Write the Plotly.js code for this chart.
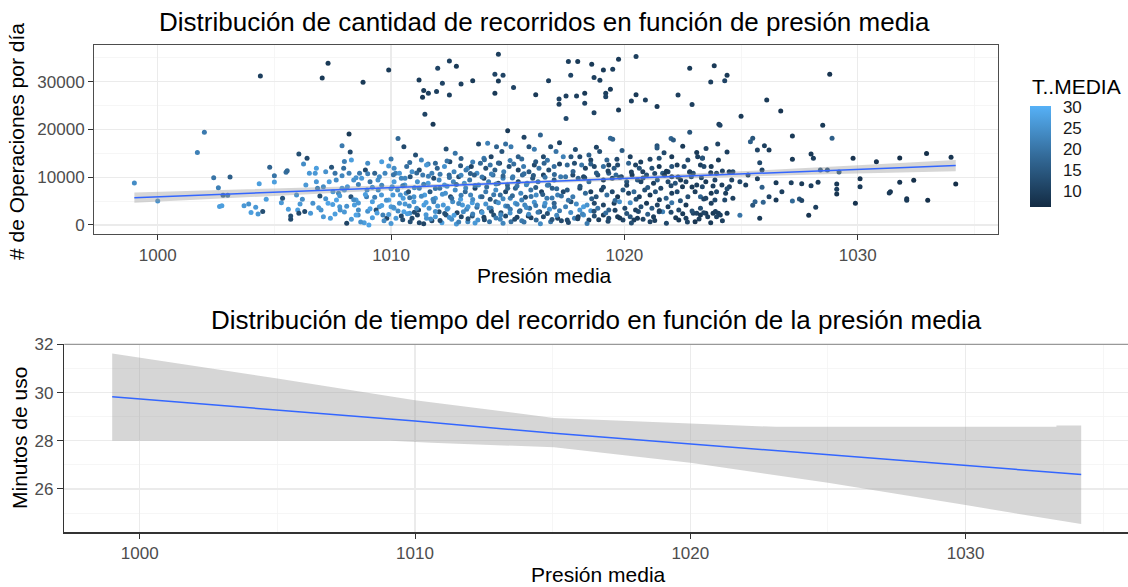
<!DOCTYPE html>
<html><head><meta charset="utf-8">
<script src="https://cdn.plot.ly/plotly-3.0.1.min.js"></script>
<style>html,body{margin:0;padding:0;background:#fff;} #chart{width:1128px;height:587px;}</style>
</head><body><div id="chart"></div>
<script>
// ---------- Top chart: daily trips vs mean pressure (points coloured by T..MEDIA) ----------
const presA1 = [999.0,1000.0,1001.7,1002.0,1002.4,1002.6,1002.65,1002.75,1002.8,1003.0,
1003.1,1003.7,1003.9,1004.0,1004.2,1004.3,1004.35,1004.4,1004.5,1004.65,
1004.8,1005.0,1005.0,1005.3,1005.35,1005.5,1005.55,1005.6,1005.7,1005.7,
1005.95,1006.0,1006.05,1006.05,1006.1,1006.2,1006.25,1006.3,1006.35,1006.4,
1006.5,1006.55,1006.65,1006.75,1006.8,1006.8,1006.85,1006.95,1007.0,1007.05,
1007.1,1007.3,1007.3,1007.4,1007.45,1007.6,1007.65,1007.75,1007.8,1007.9,
1008.0,1008.1,1008.2,1008.25,1008.3,1008.2,1008.4,1008.5,1008.6,1008.65,
1008.8,1008.85,1008.95,1009.05,1009.1,1009.3,1009.45,1009.5,1009.6,1009.65,
1009.9,1009.9,1010.0,1010.05,1010.2,1010.3,1010.55,1010.65,1010.8,1011.05];
const opsA1 = [8800,5000,15150,19400,9900,7800,3850,4050,6200,6200,
10050,4050,4400,2600,3700,2300,8650,31200,2800,5370,
12080,9000,10330,4680,5580,11030,11380,3280,1190,1880,
6280,3140,14870,2440,4400,5370,12770,2800,8380,13960,
10820,2440,4540,10820,11870,9070,7680,6070,3140,30780,
1750,33850,4540,1400,12080,10820,9420,6630,3840,16610,
7330,350,19050,15290,13610,10820,9420,5230,3140,10820,
29870,490,5930,0,9070,10820,7330,3840,13260,2090,
32460,12350,3840,8030,10820,18080,16400,6630,2440,14660];
const tempA1 = [24,25,22,21,20,22,27,27,17,20,
16,26,25,27,26,26,27,10,13,27,
17,27,20,26,14,19,18,27,12,13,
25,27,13,12,26,24,24,12,26,12,
26,26,25,26,27,26,22,13,25,9,
26,9,28,27,14,20,24,23,26,21,
27,11,9,12,27,22,25,27,24,21,
9,27,22,28,20,17,24,26,27,22,
9,26,27,25,22,18,12,24,25,13];

const presA2 = [1011.2,1011.35,1011.4,1011.45,1011.6,1011.8,1011.95,1012.0,1012.2,1012.5,
1012.5,1012.8,1013.0,1013.5,1014.45,1014.45,1014.6,1014.6,1014.8,1015.0,
1015.25,1015.7,1016.2,1016.4,1016.75,1017.2,1017.2,1017.6,1018.0,1017.7,
1017.5,1017.5,1017.95,1018.3,1018.3,1018.6,1018.7,1018.95,1019.1,1019.2,
1019.2,1019.4,1019.5,1019.75,1019.75,1018.7,1020.5,1020.3,1020.5,1020.9,
1021.4,1022.3,1022.8,1022.9,1022.8,1023.85,1023.7,1024.3,1024.4,1025.0,
1024.05,1024.1,1026.1,1026.7,1028.5,1028.8];
const opsA2 = [30360,26730,28130,23170,27570,21080,27920,32810,29660,34350,
27220,33230,29520,30220,31550,27570,35740,30150,31340,19750,
28760,18360,27290,18850,30220,26380,25270,34200,34200,31340,
22270,27010,27010,27570,25480,33640,30850,30290,32460,27570,
26870,28410,32600,34690,24080,23520,35250,25970,27290,26170,
24780,27220,32810,25200,19400,33360,29940,30220,31340,22750,
21080,20870,26170,23870,20870,31550];
const tempA2 = [9,9,9,11,10,9,10,11,11,10,
10,9,10,9,11,9,10,9,11,9,
11,11,9,17,10,11,10,10,9,11,
12,10,10,9,11,9,10,10,9,10,
11,9,10,9,9,11,10,10,9,10,
9,10,9,10,14,9,10,11,9,9,
10,11,9,8,9,8];

const presA3 = [1027.2,1028.9,1025.4,1025.5,1025.7,1026.0,1026.2,1024.0,1024.4,1023.1,
1023.35,1022.0,1022.1,1021.4,1021.4,1019.4,1019.5,1029.8,1030.8,1031.8,
1032.95,1034.0,1034.2,1030.1,1030.1,1029.9,1031.4,1031.35,1031.8,1032.4,
1032.1,1032.1,1033.0,1029.2,1029.1,1029.1,1029.1,1028.0,1028.1,1027.2,
1027.15,1027.6,1028.0,1028.3,1028.2,1027.9,1028.4,1028.7,1027.5,1027.6,
1027.2,1026.5,1026.75,1026.5,1026.2,1025.9,1025.8,1025.95,1025.5,1025.6,
1025.8,1025.9,1025.7,1025.3,1025.2,1024.95,1024.95,1024.65,1024.65,1024.5,
1024.4,1024.6];
const opsA3 = [18640,18150,17450,18150,15700,16610,15700,16960,15290,15150,
14030,18080,17800,16610,16120,18150,17940,13960,13260,14030,
14940,14170,8590,9700,8030,4540,6980,6700,8930,9350,
5510,5170,5170,11100,8590,7470,6490,14870,13960,13750,
8860,8650,8240,8930,3700,2020,11520,11520,5440,5100,
5030,8860,6980,5230,5930,7890,1400,4750,4120,4890,
13050,11520,9700,10470,8380,9070,2020,11170,5580,8030,
7610,9420];
const tempA3 = [9,16,16,14,11,10,9,11,10,9,
11,17,15,14,15,18,17,8,8,7,
7,8,7,8,9,8,8,9,8,7,
8,9,7,14,9,10,8,9,10,9,
10,9,10,9,10,8,14,13,14,11,
18,9,10,9,11,16,9,17,14,17,
12,11,10,11,10,12,20,12,10,11,
13,11];

const presB = [1007.20,1007.35,1007.51,1007.66,1007.82,1007.97,1008.13,1008.28,1008.43,1008.59,
1008.74,1008.90,1008.97,1009.20,1009.36,1009.44,1009.59,1009.74,1009.82,1009.90];
const opsB = [11170,9070,6980,5240,3140,11870,8030,5930,4190,2090,
9770,11520,7330,4890,3140,9420,6280,10820,1400,5240];
const tempB = [25,27,26,28,25,19,26,14,27,24,26,12,25,27,13,25,26,23,12,28];

const presC1 = [1011.59,1012.36,1012.75,1013.29,1013.75,1013.98,1014.14,1014.29,1014.52,1014.75,
1014.91,1015.14,1015.45,1015.91,1016.14,1016.53,1016.84,1017.07,1017.22,1017.38];
const opsC1 = [12770,15910,15010,11870,16960,13960,17100,14310,16400,15360,
16960,16400,14310,16400,15840,14310,16400,15360,17240,14310];
const tempC1 = [22,13,20,24,12,21,22,11,17,14,19,21,16,14,21,12,13,20,11,22];

const presC2 = [1010.13,1010.36,1010.67,1010.90,1011.21,1011.52,1011.75,1011.98,1012.29,1012.52,
1012.70,1012.98,1013.21,1013.44,1013.68,1013.83,1014.06,1014.25,1014.45,1014.65,
1014.83,1015.06,1015.26,1015.45,1015.68,1015.91,1016.14,1016.34,1016.56,1016.76,
1016.99,1017.22];
const opsC2 = [11870,10820,12220,11170,11520,12560,10820,11870,12220,13260,
11170,12420,11520,12220,10820,12910,11870,12560,11520,12910,
11170,12220,12770,11520,12220,11170,12560,11870,12910,11520,
12220,12770];
const tempC2 = [24,26,19,25,13,26,22,17,25,12,23,15,21,11,24,18,13,20,16,10,22,14,19,11,21,15,12,20,17,13,19,11];

const presC3 = [1010.13,1010.44,1010.59,1010.82,1011.13,1011.36,1011.59,1011.83,1012.06,1012.29,
1012.49,1012.67,1012.90,1013.14,1013.37,1013.57,1013.75,1013.98,1014.18,1014.37,
1014.60,1014.80,1014.99,1015.22,1015.45,1015.63,1015.83,1016.07,1016.30,1016.53,
1016.76,1016.99,1017.27];
const opsC3 = [9070,9770,8380,10120,9070,10470,8730,9770,9420,8380,
10470,9070,10120,8730,9420,10470,8380,9770,9070,10470,
8730,9770,8380,10120,9070,10470,8730,9770,9070,10470,
8380,9420,10120];
const tempC3 = [27,23,26,14,25,21,27,12,24,26,18,23,13,25,20,16,24,11,22,19,13,23,17,21,12,18,22,14,20,11,19,15,21];

const presC4 = [1010.08,1010.28,1010.52,1010.75,1010.98,1011.21,1011.44,1011.67,1011.90,1012.09,
1012.33,1012.55,1012.75,1012.98,1013.18,1013.41,1013.60,1013.83,1014.06,1014.25,
1014.49,1014.68,1014.91,1015.11,1015.33,1015.56,1015.76,1015.99,1016.22,1016.45,
1016.68,1016.91,1017.14,1017.38];
const opsC4 = [6280,7330,5580,6980,5930,7680,6280,6980,5580,7680,
6630,5930,7330,5370,6980,6280,7680,5930,6980,5370,
7330,6280,6980,5580,7680,6630,5790,7330,6280,6980,
5580,7680,6280,6980];
const tempC4 = [26,24,27,13,25,22,27,15,26,20,25,12,24,27,18,23,11,25,21,14,24,19,12,22,17,23,13,20,24,11,21,16,22,12];

const presC5 = [1010.13,1010.36,1010.55,1010.78,1010.98,1011.18,1011.41,1011.63,1011.83,1012.06,
1012.24,1012.44,1012.64,1012.83,1013.06,1013.24,1013.48,1013.68,1013.88,1014.06,
1014.29,1014.49,1014.71,1014.91,1015.11,1015.33,1015.53,1015.73,1015.94,1016.14,
1016.37,1016.57,1016.79,1016.99,1017.22];
const opsC5 = [3490,4540,2790,3980,4890,3140,4190,3490,4890,2790,
4190,3490,4890,2580,4190,3280,4680,3700,2790,4400,
3490,4890,2580,3980,3280,4540,3000,4190,3490,4750,
2790,3980,3280,4540,3000];
const tempC5 = [27,25,28,24,26,12,27,25,22,13,26,27,24,11,26,23,27,20,12,25,22,18,13,24,21,26,14,23,19,25,12,22,26,17,21];

const presC6 = [1010.21,1010.44,1010.82,1011.13,1011.21,1011.52,1011.75,1011.90,1012.18,1012.36,
1012.60,1012.80,1013.01,1013.29,1013.48,1013.72,1013.98,1014.22,1014.40,1014.68,
1014.91,1015.14,1015.40,1015.60,1015.88,1016.22,1016.53,1016.84,1017.14];
const opsC6 = [1400,1880,700,2090,490,1400,910,1750,490,2090,
1190,210,1750,700,1880,1050,1610,700,2090,1190,
1880,700,1610,910,1880,1050,1750,700,1400];
const tempC6 = [26,12,13,11,12,25,12,26,27,13,24,26,12,23,14,25,11,20,13,22,12,19,11,21,10,18,12,20,11];

const presD1 = [1017.71,1018.09,1018.48,1018.56,1018.94,1019.25,1019.68,1020.25,1021.10,1021.49,1022.03,1022.72,1023.14,1023.34,1024.03];
const opsD1 = [14310,14310,14660,13610,15360,13610,13750,14310,13750,13960,14310,13610,14310,13960,13610];
const tempD1 = [14,12,16,11,13,17,12,10,11,13,9,12,10,14,9];

const presD2 = [1017.55,1017.86,1018.17,1018.33,1018.56,1018.71,1019.10,1019.33,1019.56,1019.71,
1020.18,1020.48,1020.64,1020.79,1021.18,1021.49,1021.64,1021.87,1022.03,1022.26,
1022.56,1022.80,1022.95,1023.26,1023.41,1023.72,1023.95,1024.49];
const opsD2 = [12560,12910,12560,11870,12770,12220,12220,12560,11870,12560,
12910,12560,11870,11170,11870,12220,10820,11170,12220,12560,
12220,11030,10820,12560,12220,12220,10820,11170];
const tempD2 = [18,13,20,11,16,12,19,10,15,12,17,11,14,10,13,9,15,11,14,10,12,9,13,10,12,9,11,10];

const presD3 = [1017.48,1017.79,1018.02,1018.25,1018.48,1018.86,1019.10,1019.33,1019.48,1019.64,
1019.87,1020.10,1020.33,1020.56,1020.71,1020.95,1021.25,1021.41,1021.72,1021.87,
1022.03,1022.18,1022.41,1022.64,1022.87,1023.10,1023.34,1023.49,1023.88,1024.18];
const opsD3 = [10120,10470,9770,10120,9070,10470,9420,10820,9770,10470,
10120,9070,10470,9420,9070,10470,8730,9420,10470,9070,
10120,8730,9420,9070,10120,8380,8030,9070,9420,8380];
const tempD3 = [20,12,17,11,19,13,10,16,12,18,11,14,9,15,11,13,10,16,9,12,10,14,9,11,13,10,12,9,11,10];

const presD4 = [1017.55,1017.79,1018.09,1018.33,1018.56,1018.79,1019.02,1019.25,1019.48,1019.71,
1019.94,1020.18,1020.41,1020.64,1020.87,1021.10,1021.33,1021.56,1021.79,1022.03,
1022.26,1022.49,1022.72,1023.03,1023.26,1023.49,1023.72,1023.95,1024.34];
const opsD4 = [7330,5930,7680,6630,6980,5930,7330,6280,6980,5930,
7330,6630,6980,5930,7330,6280,6980,7680,5580,6630,
6980,8030,5930,6980,5930,5580,6630,6980,6630];
const tempD4 = [15,21,12,18,10,14,11,19,12,9,15,11,18,10,13,9,14,11,16,10,12,9,13,10,17,11,9,12,10];

const presD5 = [1017.48,1017.71,1017.94,1018.09,1018.25,1018.40,1018.56,1018.71,1018.86,1019.10,
1019.33,1019.56,1019.79,1020.02,1020.25,1020.48,1020.71,1020.95,1021.18,1021.41,
1021.64,1021.87,1022.03,1022.33,1022.64,1022.95,1023.26,1023.49,1023.72,1023.88,
1024.03];
const opsD5 = [3840,4890,4400,3140,3840,4190,3000,4540,3490,4190,
3140,4540,4890,3490,4680,3140,3840,4540,3490,4190,
2790,3840,4680,3140,4190,2440,3490,2440,4540,5240,
2440];
const tempD5 = [22,13,24,26,27,25,26,12,20,11,16,10,25,12,24,10,13,9,15,11,22,10,20,12,9,11,13,9,10,12,10];

const presD6 = [1017.55,1017.86,1018.02,1018.25,1018.48,1018.71,1019.10,1019.33,1019.71,1019.94,
1020.25,1020.41,1020.56,1021.10,1021.25,1021.49,1022.33,1022.64,1023.03,1023.10,
1023.26,1023.57,1023.80,1023.95,1024.11];
const opsD6 = [1050,1400,1750,2090,1050,1880,2090,1400,1750,1050,
1750,1050,1400,700,1750,2790,1050,1400,700,2440,
2090,1750,2440,1750,2090];
const tempD6 = [12,22,10,25,11,13,10,12,9,11,14,10,9,11,10,13,9,10,8,11,9,10,9,11,10];

// extra points filling the dense 1007-1017 band
const presE1 = [1008.3,1008.7,1009.2,1009.7,1010.0,1010.5,1010.9,1011.4,1011.7,1012.1,1012.5,1012.9,1013.3,1013.6,1014.0,1014.5,1014.8,1015.3,1015.7,1016.0,1016.4,1016.9,1017.3];
const opsE1 = [1200,600,1500,900,300,1100,1400,250,1250,950,1550,600,1300,400,1100,1450,350,1200,650,1500,280,1150,900];
const tempE1 = [26,25,27,24,26,13,12,11,24,12,25,22,13,26,12,21,23,12,20,11,24,14,12];

const presE2 = [1007.6,1008.0,1008.5,1009.0,1009.4,1009.9,1010.3,1010.7,1011.0,1011.5,1011.9,1012.3,1012.7,1013.1,1013.5,1013.9,1014.3,1014.7,1015.1,1015.5,1015.9,1016.3,1016.7,1017.1];
const opsE2 = [2300,2700,2100,2900,2500,2200,2950,2350,2650,2150,2800,2400,2050,2750,2300,2600,2900,2150,2500,2800,2250,2650,2400,2050];
const tempE2 = [27,26,28,25,27,26,24,27,12,26,25,13,27,24,22,26,12,23,25,18,24,21,13,23];

const presE3 = [1006.9,1007.5,1008.1,1008.6,1009.1,1009.6,1010.1,1010.6,1011.1,1011.5,1012.0,1012.4,1012.9,1013.3,1013.7,1014.2,1014.6,1015.0,1015.4,1015.8,1016.2,1016.6,1017.0];
const opsE3 = [3600,4300,3900,4600,3400,4100,3700,4400,3500,4700,4000,3300,4500,3800,4200,3550,4650,3900,4350,3650,4100,4550,3750];
const tempE3 = [26,27,25,26,28,27,25,26,24,27,26,25,23,26,24,22,25,20,23,24,21,25,19];

const presE4 = [1007.2,1007.8,1008.4,1008.9,1009.3,1009.8,1010.4,1010.8,1011.3,1011.8,1012.2,1012.6,1013.0,1013.5,1013.9,1014.4,1014.8,1015.2,1015.6,1016.0,1016.5,1016.9,1017.3];
const opsE4 = [5500,6100,5300,6400,5800,5200,6300,5700,6000,5400,6450,5600,6200,5350,5900,6350,5500,6100,5250,5950,6400,5650,6050];
const tempE4 = [25,26,24,27,22,25,26,20,24,23,25,19,22,24,17,21,23,18,22,20,16,21,19];

const presE5 = [1007.1,1007.9,1008.6,1009.2,1009.6,1010.0,1010.5,1011.0,1011.4,1011.9,1012.4,1012.8,1013.2,1013.6,1014.1,1014.5,1015.0,1015.4,1015.8,1016.2,1016.7,1017.1];
const opsE5 = [8000,7700,8500,7900,8300,7600,8200,7800,8550,7650,8100,8450,7750,8250,7950,8600,7700,8150,8400,7850,8300,7600];
const tempE5 = [24,26,22,25,23,26,21,24,22,20,25,18,23,21,19,22,17,20,23,16,21,18];

const presE6 = [1007.9,1008.5,1009.0,1009.5,1010.1,1010.6,1011.1,1011.6,1012.1,1012.5,1013.0,1013.4,1013.9,1014.3,1014.8,1015.2,1015.7,1016.1,1016.6,1017.0];
const opsE6 = [10300,9900,10700,10100,10500,9800,10900,10200,10600,9950,10400,10800,10050,10650,10250,9850,10750,10350,10000,10550];
const tempE6 = [23,25,22,24,20,23,18,22,21,19,23,16,20,22,17,21,19,15,20,18];

const presE7 = [1008.0,1009.0,1010.0,1010.8,1011.3,1011.9,1012.4,1013.0,1013.5,1014.0,1014.6,1015.1,1015.6,1016.2,1016.7];
const opsE7 = [13300,12900,13800,13100,13600,12950,13400,13900,13200,13650,13000,13500,13800,13250,13550];
const tempE7 = [22,24,21,19,23,18,20,16,22,19,17,21,18,15,20];

// extra points filling the 1017.5-1024.5 band
const presF1 = [1017.6,1018.0,1018.4,1018.9,1019.3,1019.8,1020.3,1020.8,1021.3,1021.8,1022.2,1022.7,1023.2,1023.7,1024.2];
const opsF1 = [500,1300,300,1100,800,1450,400,1200,950,350,1500,600,1250,450,900];
const tempF1 = [12,11,21,10,12,9,13,11,10,12,9,11,10,9,10];

const presF2 = [1017.7,1018.2,1018.7,1019.2,1019.6,1020.1,1020.6,1021.0,1021.5,1022.0,1022.5,1022.9,1023.4,1023.9,1024.4];
const opsF2 = [2600,2300,2900,2500,3100,2400,2800,2250,3000,2650,2350,2950,2550,2800,2450];
const tempF2 = [24,23,13,19,11,14,12,16,10,12,9,13,11,10,9];

const presF3 = [1017.6,1018.1,1018.6,1019.1,1019.6,1020.1,1020.5,1021.0,1021.5,1022.0,1022.4,1022.9,1023.4,1023.8,1024.3];
const opsF3 = [5200,8100,5500,7900,5100,8300,5400,7850,5300,8200,5050,7950,5450,8150,5250];
const tempF3 = [20,14,16,12,18,11,13,15,10,12,14,9,11,10,12];

const presF4 = [1017.8,1018.3,1018.8,1019.3,1019.8,1020.3,1020.8,1021.3,1021.8,1022.3,1022.8,1023.3,1023.7,1024.2];
const opsF4 = [11200,9900,10900,11300,10000,11100,9850,10800,11250,10050,11150,9900,10950,11300];
const tempF4 = [17,12,15,11,14,10,13,12,9,11,10,12,9,11];

const presF5 = [1017.9,1018.8,1019.9,1020.7,1021.7,1022.5,1023.5];
const opsF5 = [15800,16300,15600,13200,15100,16500,16000];
const tempF5 = [13,11,15,10,12,9,11];

// linear fit and 95% band of the top chart
const fitTopX = [999, 1004, 1008, 1012, 1016.5, 1021, 1025, 1029, 1034.2];
const fitTopY = [5720, 6673, 7435, 8198, 9055, 9913, 10675, 11438, 12430];
const fitTopLo = [4630, 5883, 6875, 7798, 8755, 9513, 10115, 10658, 11230];
const fitTopHi = [6810, 7463, 7995, 8598, 9355, 10313, 11235, 12218, 13630];

// ---------- Bottom chart: trip minutes vs mean pressure (smooth + band) ----------
const fitBotX = [999.0, 1005, 1010, 1015.05, 1020, 1025, 1030, 1034.2];
const fitBotY = [29.83, 29.27, 28.82, 28.31, 27.86, 27.41, 26.96, 26.60];
const bandBotHiX = [999.0, 1005, 1010, 1015.05, 1020, 1023.1, 1033.3, 1033.3, 1034.2];
const bandBotHi = [31.63, 30.59, 29.69, 28.95, 28.72, 28.58, 28.58, 28.64, 28.64];
const bandBotLoX = [999.0, 1009.1, 1010.6, 1012.95, 1015.05, 1020, 1025, 1030, 1034.2];
const bandBotLo = [28.0, 28.0, 27.92, 27.82, 27.73, 27.09, 26.26, 25.33, 24.54];

const xTicks = [1000, 1010, 1020, 1030];
const xMinor = [1005, 1015, 1025, 1035];
const yTopTicks = [0, 10000, 20000, 30000];
const yTopMinor = [5000, 15000, 25000, 35000];
const yBotTicks = [26, 28, 30, 32];
const yBotMinor = [25, 27, 29, 31];
const tempTicks = [10, 15, 20, 25, 30];

const presion = [].concat(presA1, presA2, presA3, presB, presC1, presC2, presC3, presC4, presC5, presC6,
  presD1, presD2, presD3, presD4, presD5, presD6, presE1, presE2, presE3, presE4, presE5, presE6, presE7,
  presF1, presF2, presF3, presF4, presF5);
const operaciones = [].concat(opsA1, opsA2, opsA3, opsB, opsC1, opsC2, opsC3, opsC4, opsC5, opsC6,
  opsD1, opsD2, opsD3, opsD4, opsD5, opsD6, opsE1, opsE2, opsE3, opsE4, opsE5, opsE6, opsE7,
  opsF1, opsF2, opsF3, opsF4, opsF5);
const tMedia = [].concat(tempA1, tempA2, tempA3, tempB, tempC1, tempC2, tempC3, tempC4, tempC5, tempC6,
  tempD1, tempD2, tempD3, tempD4, tempD5, tempD6, tempE1, tempE2, tempE3, tempE4, tempE5, tempE6, tempE7,
  tempF1, tempF2, tempF3, tempF4, tempF5);

const FONT = 'Liberation Sans, Arial, Helvetica, sans-serif';
const W = 1128, H = 587;
const px = v => v / W;
const py = v => 1 - v / H;

const BAND = 'rgba(153,153,153,0.4)';
const BLUE = '#3366FF';

const traces = [
  {type:'scatter', mode:'markers', x:presion, y:operaciones, xaxis:'x', yaxis:'y', hoverinfo:'skip', showlegend:false,
   marker:{size:5, color:tMedia, cmin:6.2, cmax:30.3,
     colorscale:[[0,'#132B43'],[0.5,'#336A98'],[1,'#56B1F7']], showscale:true,
     colorbar:{x:px(1030), xanchor:'left', xref:'paper', xpad:0, ypad:0,
       y:py(156.5), yanchor:'middle', len:101, lenmode:'pixels', thickness:21, thicknessmode:'pixels',
       outlinewidth:0, tickvals:tempTicks, ticks:'outside', ticklen:9, tickwidth:1, tickcolor:'rgba(0,0,0,0)',
       tickfont:{family:FONT, size:17, color:'#1a1a1a'}, title:{text:''}}}},
  {type:'scatter', mode:'lines', x:fitTopX, y:fitTopLo, xaxis:'x', yaxis:'y', line:{width:0}, hoverinfo:'skip', showlegend:false},
  {type:'scatter', mode:'lines', x:fitTopX, y:fitTopHi, xaxis:'x', yaxis:'y', line:{width:0}, fill:'tonexty', fillcolor:BAND, hoverinfo:'skip', showlegend:false},
  {type:'scatter', mode:'lines', x:fitTopX, y:fitTopY, xaxis:'x', yaxis:'y', line:{color:BLUE, width:1.5}, hoverinfo:'skip', showlegend:false},
  {type:'scatter', mode:'lines', x:bandBotLoX, y:bandBotLo, xaxis:'x2', yaxis:'y2', line:{width:0}, hoverinfo:'skip', showlegend:false},
  {type:'scatter', mode:'lines', x:bandBotHiX, y:bandBotHi, xaxis:'x2', yaxis:'y2', line:{width:0}, fill:'tonexty', fillcolor:BAND, hoverinfo:'skip', showlegend:false},
  {type:'scatter', mode:'lines', x:fitBotX, y:fitBotY, xaxis:'x2', yaxis:'y2', line:{color:BLUE, width:1.5}, hoverinfo:'skip', showlegend:false}
];

const tickFont = {family:FONT, size:17, color:'#4D4D4D'};
const grid = {showgrid:true, gridcolor:'#EBEBEB', gridwidth:1.2, zeroline:false};
const minorGrid = vals => ({tickvals:vals, showgrid:true, gridcolor:'#F4F4F4', gridwidth:0.8, ticks:''});

const layout = {
  width:W, height:H, margin:{l:0, r:0, t:0, b:0},
  paper_bgcolor:'#ffffff', plot_bgcolor:'#ffffff', showlegend:false,
  font:{family:FONT, color:'#000'},
  xaxis:Object.assign({domain:[px(94), px(997.5)], range:[997.27, 1035.99], anchor:'y',
    tickmode:'array', tickvals:xTicks, ticks:'outside', ticklen:5, tickwidth:1, tickcolor:'#333',
    showline:true, mirror:true, linecolor:'#4d4d4d', linewidth:1, tickfont:tickFont,
    minor:minorGrid(xMinor)}, grid),
  yaxis:Object.assign({domain:[py(234.3), py(45)], range:[-1950, 37680], anchor:'x',
    tickmode:'array', tickvals:yTopTicks, tickformat:'d', ticks:'outside', ticklen:5, tickwidth:1, tickcolor:'#333',
    showline:true, mirror:true, linecolor:'#4d4d4d', linewidth:1, tickfont:tickFont,
    minor:minorGrid(yTopMinor)}, grid),
  xaxis2:Object.assign({domain:[px(64.3), 1], range:[997.26, 1035.90], anchor:'y2',
    tickmode:'array', tickvals:xTicks, ticks:'outside', ticklen:5, tickwidth:1, tickcolor:'#333',
    showline:true, linecolor:'#333', linewidth:1.5, tickfont:tickFont,
    minor:minorGrid(xMinor)}, grid),
  yaxis2:Object.assign({domain:[py(532.3), py(344.3)], range:[24.2, 32.01], anchor:'x2',
    tickmode:'array', tickvals:yBotTicks, ticks:'outside', ticklen:6, tickwidth:1, tickcolor:'#333',
    showline:true, linecolor:'#333', linewidth:1.5, tickfont:tickFont,
    minor:minorGrid(yBotMinor)}, grid),
  shapes:[
    {type:'line', xref:'x2 domain', yref:'y2 domain', x0:0, x1:1, y0:1, y1:1, line:{color:'#999999', width:1.3}}
  ],
  annotations:[
    {text:'Distribución de cantidad de recorridos en función de presión media', xref:'paper', yref:'paper',
     x:px(544), y:py(22), xanchor:'center', yanchor:'middle', showarrow:false, font:{family:FONT, size:26, color:'#000'}},
    {text:'Distribución de tiempo del recorrido en función de la presión media', xref:'paper', yref:'paper',
     x:px(596), y:py(320), xanchor:'center', yanchor:'middle', showarrow:false, font:{family:FONT, size:26, color:'#000'}},
    {text:'Presión media', xref:'paper', yref:'paper', x:px(544), y:py(276), xanchor:'center', yanchor:'middle',
     showarrow:false, font:{family:FONT, size:21, color:'#000'}},
    {text:'Presión media', xref:'paper', yref:'paper', x:px(598), y:py(574), xanchor:'center', yanchor:'middle',
     showarrow:false, font:{family:FONT, size:21, color:'#000'}},
    {text:'# de Operaciones por día', xref:'paper', yref:'paper', x:px(17), y:py(142), xanchor:'center', yanchor:'middle',
     textangle:-90, showarrow:false, font:{family:FONT, size:21, color:'#000'}},
    {text:'Minutos de uso', xref:'paper', yref:'paper', x:px(19), y:py(438), xanchor:'center', yanchor:'middle',
     textangle:-90, showarrow:false, font:{family:FONT, size:21, color:'#000'}},
    {text:'T..MEDIA', xref:'paper', yref:'paper', x:px(1030), y:py(86), xanchor:'left', yanchor:'middle',
     showarrow:false, font:{family:FONT, size:21, color:'#000'}}
  ]
};

Plotly.newPlot('chart', traces, layout, {staticPlot:true, displayModeBar:false});
</script>
</body></html>
